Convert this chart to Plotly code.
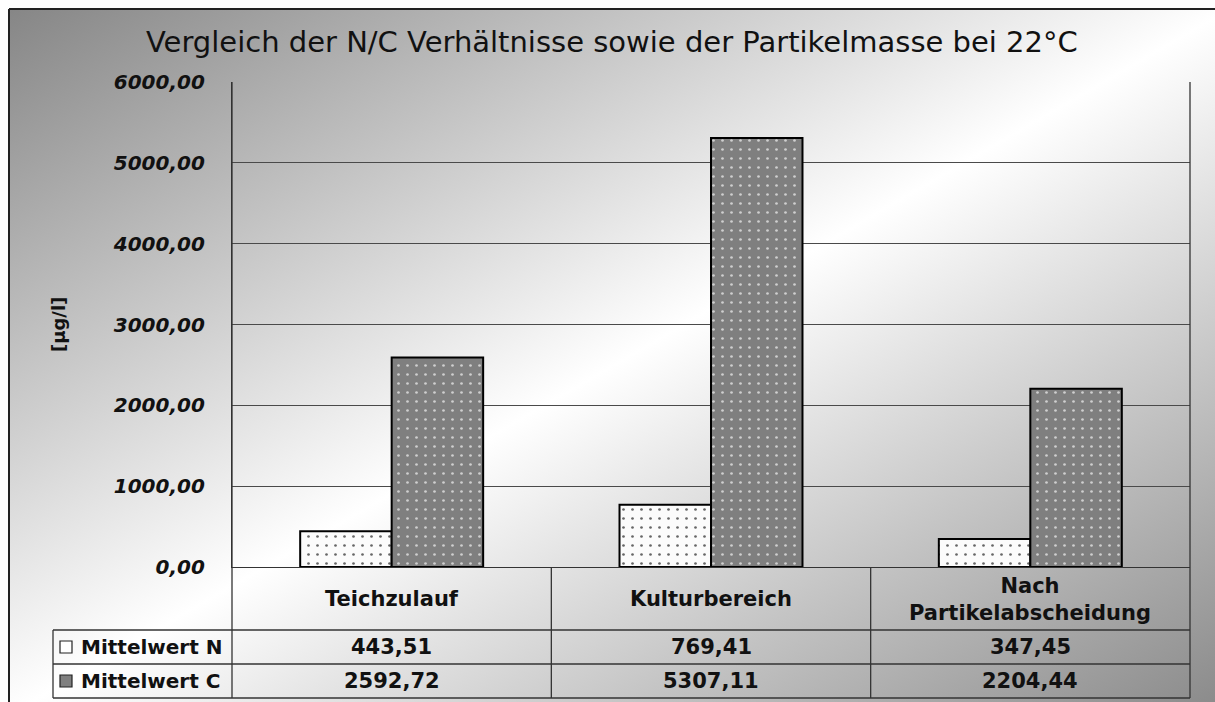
import base64
import plotly.graph_objects as go

# ---------------- data ----------------
categories = ["Teichzulauf", "Kulturbereich", "Nach<br>Partikelabscheidung"]
series_names = ["Mittelwert N", "Mittelwert C"]
mittelwert_n = [443.51, 769.41, 347.45]
mittelwert_c = [2592.72, 5307.11, 2204.44]
y_ticks = [0, 1000, 2000, 3000, 4000, 5000, 6000]
title_text = "Vergleich der N/C Verhältnisse sowie der Partikelmasse bei 22°C"
y_title = "[µg/l]"


def de(v):
    return f"{v:.2f}".replace(".", ",")


# ---------------- geometry helpers (window pixel coords) ----------------
OFF = 8                      # page body margin (top / left)
W, H = 1215 - OFF, 702 - OFF
X0, X1, Y0, Y1 = 232, 1190, 82, 567


def px(x):
    return (x - X0) / (X1 - X0)


def py(y):
    return (Y1 - y) / (Y1 - Y0)


FONT = "DejaVu Sans"
TXT = "#111111"

fig = go.Figure()
fig.add_trace(go.Bar(
    x=categories, y=mittelwert_n, name=series_names[0],
    marker=dict(color="white", line=dict(color="black", width=2),
                pattern=dict(shape=".", size=9, solidity=0.07,
                             fgcolor="#666666", bgcolor="#fbfbfb", fillmode="replace")),
))
fig.add_trace(go.Bar(
    x=categories, y=mittelwert_c, name=series_names[1],
    marker=dict(color="#7f7f7f", line=dict(color="black", width=2),
                pattern=dict(shape=".", size=9, solidity=0.07,
                             fgcolor="#cfcfcf", bgcolor="#7f7f7f", fillmode="replace")),
))

# background gradient
svg = ("<svg xmlns='http://www.w3.org/2000/svg' width='1208' height='694' viewBox='0 0 1208 694' "
       "preserveAspectRatio='none'><defs><linearGradient id='g' x1='0' y1='0' x2='1' y2='1'>"
       "<stop offset='0' stop-color='#868686'/><stop offset='0.5' stop-color='#ffffff'/>"
       "<stop offset='1' stop-color='#888888'/></linearGradient></defs>"
       "<rect width='1208' height='694' fill='url(#g)'/></svg>")
src = "data:image/svg+xml;base64," + base64.b64encode(svg.encode()).decode()

shapes = []
LC = "#333333"


def hline(y, xa, xb, w=1.3):
    shapes.append(dict(type="line", xref="paper", yref="paper", x0=px(xa), x1=px(xb),
                       y0=py(y), y1=py(y), line=dict(color=LC, width=w)))


def vline_px(x, ya, yb, w=1.3):
    shapes.append(dict(type="line", xref="paper", yref="paper", x0=px(x), x1=px(x),
                       y0=py(ya), y1=py(yb), line=dict(color=LC, width=w)))


# outer chart frame
shapes.append(dict(type="line", xref="paper", yref="paper", x0=px(9), x1=px(9),
                   y0=py(9), y1=py(702), line=dict(color="#222222", width=2)))
shapes.append(dict(type="line", xref="paper", yref="paper", x0=px(9), x1=px(1215),
                   y0=py(9), y1=py(9), line=dict(color="#222222", width=2)))

# table lines
for y in (630, 664, 698):
    hline(y, 53, 1190)
vline_px(53, 630, 698)
vline_px(232, 82, 698)
vline_px(1190, 82, 698)
for b in (0.5, 1.5):
    shapes.append(dict(type="line", xref="x", yref="paper", x0=b, x1=b,
                       y0=py(567), y1=py(698), line=dict(color=LC, width=1.3)))

# legend keys
shapes.append(dict(type="rect", xref="paper", yref="paper", x0=px(60), x1=px(72),
                   y0=py(641), y1=py(653), fillcolor="white", line=dict(color="#222", width=1.2)))
shapes.append(dict(type="rect", xref="paper", yref="paper", x0=px(60), x1=px(72),
                   y0=py(675), y1=py(687), fillcolor="#7f7f7f", line=dict(color="#222", width=1.2)))

ann = []
ann.append(dict(text=title_text, xref="paper", yref="paper", x=px(612), y=py(42),
                xanchor="center", yanchor="middle", showarrow=False,
                font=dict(family=FONT, size=29, color=TXT)))
ann.append(dict(text=y_title, xref="paper", yref="paper", x=px(58), y=py(325),
                textangle=-90, xanchor="center", yanchor="middle", showarrow=False,
                font=dict(family=FONT, size=18, color=TXT, weight="bold")))
for i, c in enumerate(categories):
    ann.append(dict(text=c, xref="x", yref="paper", x=i, y=py(599),
                    xanchor="center", yanchor="middle", showarrow=False,
                    font=dict(family=FONT, size=21, color=TXT, weight="bold")))
    ann.append(dict(text=de(mittelwert_n[i]), xref="x", yref="paper", x=i, y=py(647),
                    xanchor="center", yanchor="middle", showarrow=False,
                    font=dict(family=FONT, size=21, color=TXT, weight="bold")))
    ann.append(dict(text=de(mittelwert_c[i]), xref="x", yref="paper", x=i, y=py(681),
                    xanchor="center", yanchor="middle", showarrow=False,
                    font=dict(family=FONT, size=21, color=TXT, weight="bold")))
for name, yy in zip(series_names, (647, 681)):
    ann.append(dict(text=name, xref="paper", yref="paper", x=px(79), y=py(yy),
                    xanchor="left", yanchor="middle", showarrow=False,
                    font=dict(family=FONT, size=20, color=TXT, weight="bold")))

fig.update_layout(
    width=W, height=H,
    margin=dict(l=X0 - OFF, r=W - (X1 - OFF), t=Y0 - OFF, b=H - (Y1 - OFF), pad=0,
                autoexpand=False),
    paper_bgcolor="white", plot_bgcolor="rgba(0,0,0,0)",
    barmode="group", bargap=0.427, bargroupgap=0,
    showlegend=False,
    images=[dict(source=src, xref="paper", yref="paper", x=px(9), y=py(9),
                 sizex=(1230 - 9) / (X1 - X0), sizey=(715 - 9) / (Y1 - Y0),
                 xanchor="left", yanchor="top", sizing="stretch", layer="below")],
    shapes=shapes, annotations=ann,
    xaxis=dict(showticklabels=False, showgrid=False, zeroline=False,
               showline=True, linecolor=LC, linewidth=1.3),
    yaxis=dict(range=[0, 6000], tickvals=y_ticks, ticktext=[de(v) for v in y_ticks],
               showgrid=True, gridcolor="#4a4a4a", gridwidth=1, zeroline=False,
               showline=True, linecolor=LC, linewidth=1.3, mirror=False,
               ticks="", ticklabelstandoff=22,
               tickfont=dict(family=FONT, size=20, color=TXT, weight="bold", style="italic")),
)

fig.write_html(
    "out.html",
    post_script="document.body.style.margin='8px 0 0 8px';"
                "document.documentElement.style.overflow='hidden';"
                "document.body.style.overflow='hidden';",
)
